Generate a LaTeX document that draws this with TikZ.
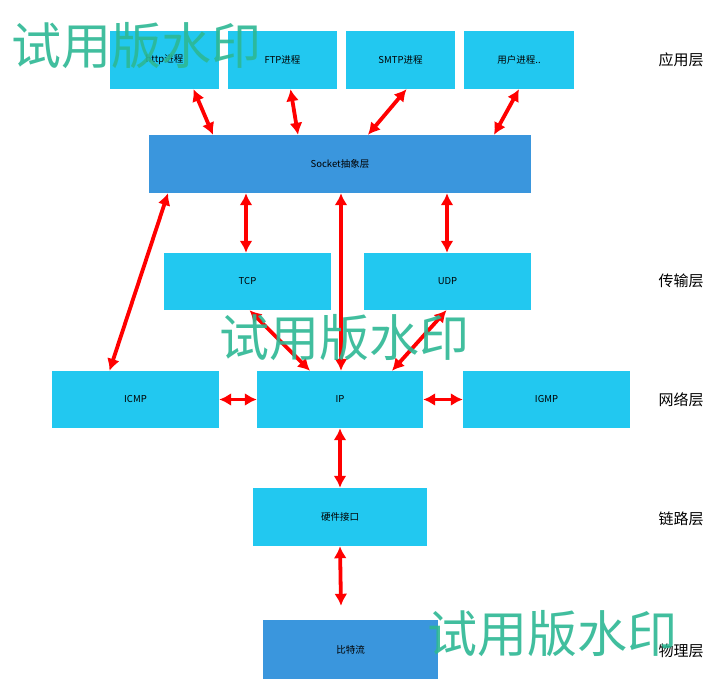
\documentclass[tikz,border=0pt]{standalone}
\usepackage{fontspec}
\setmainfont{Noto Sans CJK SC}
\usetikzlibrary{arrows.meta}

\definecolor{lightblue}{HTML}{22C8F0}
\definecolor{darkblue}{HTML}{3A96DD}
\definecolor{wmgreen}{HTML}{2DB894}

\begin{document}
\begin{tikzpicture}[x=1pt, y=-1pt,
    box/.style = {fill=lightblue, inner sep=0pt, font=\fontsize{9.5}{9.5}\selectfont},
    base/.style = {box, fill=darkblue},
    layer/.style = {font=\fontsize{15}{15}\selectfont},
    link/.style = {red, line width=3.8pt, {Latex[length=12pt,width=13pt]}-{Latex[length=12pt,width=13pt]}},
    wmark/.style = {wmgreen, opacity=0.9, font=\fontsize{50}{50}\selectfont}]
    \useasboundingbox[fill=white] (0,0) rectangle (728,679);

    % application layer
    \node[box, minimum width=109pt, minimum height=58pt] (http) at (164.5,60) {http进程};
    \node[box, minimum width=109pt, minimum height=58pt] (ftp)  at (282.5,60) {FTP进程};
    \node[box, minimum width=109pt, minimum height=58pt] (smtp) at (400.5,60) {SMTP进程};
    \node[box, minimum width=110pt, minimum height=58pt] (user) at (519,60)   {用户进程..};
    \node[base, minimum width=382pt, minimum height=58pt] (sock) at (340,164) {Socket抽象层};

    % transport and network layer
    \node[box, minimum width=167pt, minimum height=57pt] (tcp)  at (247.5,281.5) {TCP};
    \node[box, minimum width=167pt, minimum height=57pt] (udp)  at (447.5,281.5) {UDP};
    \node[box, minimum width=167pt, minimum height=57pt] (icmp) at (135.5,399.5) {ICMP};
    \node[box, minimum width=166pt, minimum height=57pt] (ip)   at (340,399.5)   {IP};
    \node[box, minimum width=167pt, minimum height=57pt] (igmp) at (546.5,399.5) {IGMP};

    % link and physical layer
    \node[box, minimum width=174pt, minimum height=58pt] (hw)   at (340,517)   {硬件接口};
    \node[base, minimum width=175pt, minimum height=59pt] (bits) at (350.5,649.5) {比特流};

    \node[layer] (l1) at (681,60)  {应用层};
    \node[layer] (l2) at (681,281) {传输层};
    \node[layer] (l3) at (681,400) {网络层};
    \node[layer] (l4) at (681,519) {链路层};
    \node[layer] (l5) at (681,651) {物理层};

    \draw[link] ([xshift=29pt]http.south) -- ([xshift=-127pt]sock.north);
    \draw[link] ([xshift=8pt]ftp.south)   -- ([xshift=-42pt]sock.north);
    \draw[link] ([xshift=6pt]smtp.south)  -- ([xshift=28pt]sock.north);
    \draw[link] (user.south)              -- ([xshift=154pt]sock.north);
    \draw[link] ([xshift=-94pt]sock.south) -- ([xshift=-1.5pt]tcp.north);
    \draw[link] ([xshift=107pt]sock.south) -- ([xshift=-0.5pt]udp.north);
    \draw[link] ([xshift=1pt]sock.south)  -- ([xshift=1pt]ip.north);
    \draw[link] ([xshift=-172pt]sock.south) -- ([xshift=-26pt]icmp.north);
    \draw[link] ([xshift=2pt]tcp.south)   -- ([xshift=-30pt]ip.north);
    \draw[link] ([xshift=-1pt]udp.south)  -- ([xshift=52pt]ip.north);
    \draw[link] (icmp.east) -- (ip.west);
    \draw[link] (ip.east) -- (igmp.west);
    \draw[link] (ip.south) -- (hw.north);
    \draw[link] (hw.south) -- ([xshift=-9.5pt,yshift=14pt]bits.north);

    % watermarks
    \node[wmark, anchor=west] (w1) at (8,46)  {试用版水印};
    \node[wmark, anchor=west] (w2) at (216,338) {试用版水印};
    \node[wmark, anchor=west] (w3) at (424,634) {试用版水印};
\end{tikzpicture}
\end{document}
